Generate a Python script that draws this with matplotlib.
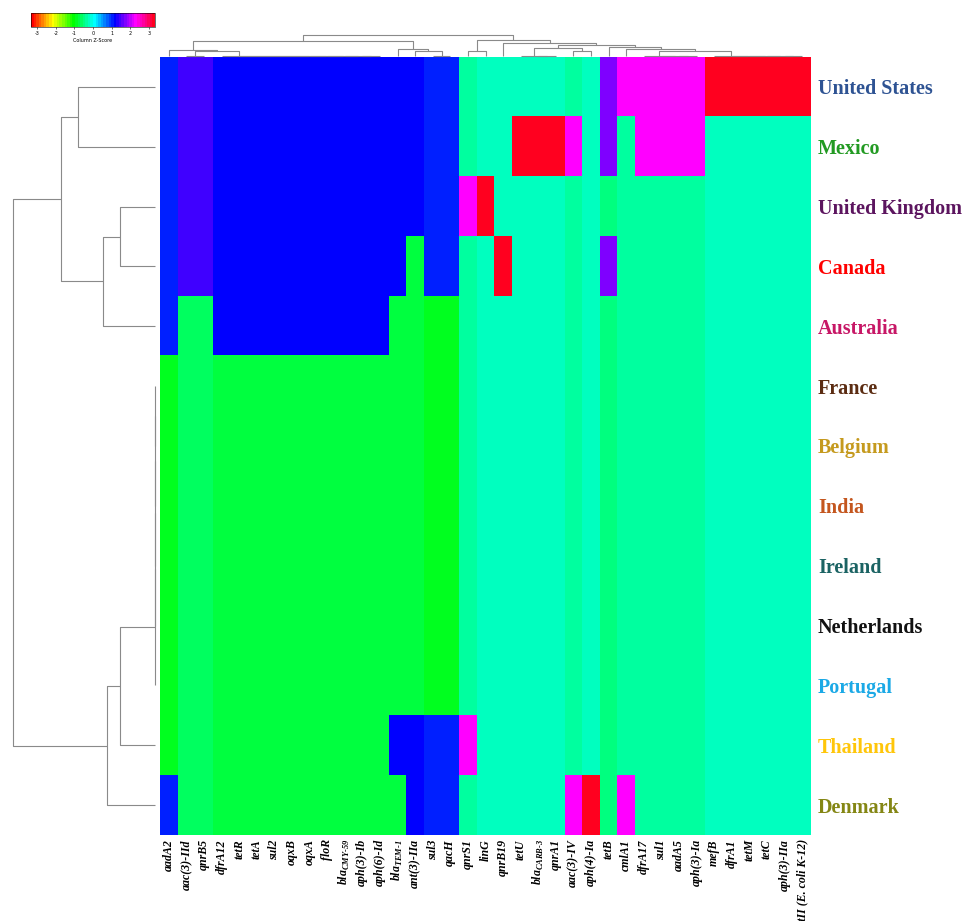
import numpy as np
import matplotlib
matplotlib.use("Agg")
import matplotlib.pyplot as plt
from matplotlib.collections import LineCollection
from matplotlib.colors import ListedColormap, hsv_to_rgb

plt.rcParams["axes.unicode_minus"] = False

countries = ["United States", "Mexico", "United Kingdom", "Canada", "Australia",
             "France", "Belgium", "India", "Ireland", "Netherlands", "Portugal",
             "Thailand", "Denmark"]
codes = ["US", "MX", "UK", "CA", "AU", "FR", "BE", "IN", "IE", "NL", "PT", "TH", "DK"]
country_colors = ["#2E5393", "#229A22", "#5C155F", "#FF0000", "#C71766",
                  "#5B2C12", "#C59A1E", "#C4561E", "#1B6363", "#111111",
                  "#1BA9E6", "#FFC60A", "#848614"]

genes = ["aadA2", "aac(3)-IId", "qnrB5", "dfrA12", "tetR", "tetA", "sul2", "oqxB",
         "oqxA", "floR", "bla$_{\\mathregular{CMY\u201059}}$", "aph(3)-Ib", "aph(6)-Id",
         "bla$_{\\mathregular{TEM\u20101}}$", "ant(3)-IIa", "sul3", "qacH", "qnrS1", "linG",
         "qnrB19", "tetU", "bla$_{\\mathregular{CARB\u20103}}$", "qnrA1", "aac(3)-IV",
         "aph(4)-Ia", "tetB", "cmlA1", "dfrA17", "sul1", "aadA5", "aph(3)-Ia",
         "mefB", "dfrA1", "tetM", "tetC", "aph(3)-IIa", "catII (E. coli K-12)"]

# countries in which each gene was detected
carriers = ["US MX UK CA AU DK", "US MX UK CA", "US MX UK CA",
            "US MX UK CA AU", "US MX UK CA AU", "US MX UK CA AU", "US MX UK CA AU",
            "US MX UK CA AU", "US MX UK CA AU", "US MX UK CA AU", "US MX UK CA AU",
            "US MX UK CA AU", "US MX UK CA AU",
            "US MX UK CA TH", "US MX UK TH DK", "US MX UK CA TH DK", "US MX UK CA TH DK",
            "UK TH", "UK", "CA", "MX", "MX", "MX", "MX DK", "DK", "US MX CA", "US DK",
            "US MX", "US MX", "US MX", "US MX",
            "US", "US", "US", "US", "US", "US"]

presence = np.array([[1 if c in carriers[j].split() else 0 for j in range(len(genes))]
                     for c in codes], dtype=float)

# column z-score
z = (presence - presence.mean(axis=0)) / presence.std(axis=0, ddof=1)
zmax = np.abs(z).max()

# rainbow palette, 48 steps of hue
n_col = 48
hues = np.arange(n_col) / n_col
rainbow = ListedColormap(hsv_to_rgb(np.column_stack([hues, np.ones(n_col), np.ones(n_col)])))


def linkage_segments(data, right_first=False):
    # average linkage on manhattan distance, joining neighbours in display order
    n = len(data)
    d = np.abs(data[:, None, :] - data[None, :, :]).sum(-1)
    clusters = [[i] for i in range(n)]
    pos = [float(i) for i in range(n)]
    hgt = [0.0] * n
    links = []
    while len(clusters) > 1:
        best = None
        for j in range(len(clusters) - 1):
            dist = d[np.ix_(clusters[j], clusters[j + 1])].mean()
            if best is None or dist < best[0] - 1e-9 or (right_first and dist <= best[0] + 1e-9):
                best = (dist, j)
        dist, j = best
        links.append((pos[j], hgt[j], pos[j + 1], hgt[j + 1], dist))
        clusters[j:j + 2] = [clusters[j] + clusters[j + 1]]
        pos[j:j + 2] = [(pos[j] + pos[j + 1]) / 2]
        hgt[j:j + 2] = [dist]
    return links, hgt[0]


W, H = 965, 921
fig = plt.figure(figsize=(W / 100, H / 100), dpi=100)


def px_axes(x0, y0, x1, y1):
    return fig.add_axes([x0 / W, 1 - y1 / H, (x1 - x0) / W, (y1 - y0) / H])


ax = px_axes(160, 57, 811, 835)
im = ax.imshow(z, cmap=rainbow, vmin=-zmax, vmax=zmax, aspect="auto",
               interpolation="nearest")
for s in ax.spines.values():
    s.set_visible(False)
ax.set_yticks(range(len(countries)))
ax.set_yticklabels(countries, family="Liberation Serif", fontweight="bold", fontsize=14.5)
ax.yaxis.tick_right()
for lab, col in zip(ax.get_yticklabels(), country_colors):
    lab.set_color(col)
ax.set_xticks(range(len(genes)))
ax.set_xticklabels(genes, rotation=90, family="Liberation Serif", fontweight="bold",
                   fontstyle="italic", fontsize=8.6)
ax.tick_params(length=0)
ax.tick_params(axis="y", pad=5)
ax.tick_params(axis="x", pad=3)

line_kw = dict(colors="#8a8a8a", linewidths=0.8, clip_on=False)

# row dendrogram
links, root = linkage_segments(presence)
segs = [[(h1, p1), (h, p1), (h, p2), (h2, p2)] for p1, h1, p2, h2, h in links]
rax = px_axes(13, 57, 155, 835)
rax.add_collection(LineCollection(segs, **line_kw))
rax.set_xlim(root, 0)
rax.set_ylim(len(countries) - 0.5, -0.5)
rax.axis("off")

# column dendrogram
links, root = linkage_segments(presence.T, right_first=True)
segs = [[(p1, h1), (p1, h), (p2, h), (p2, h2)] for p1, h1, p2, h2, h in links]
dax = px_axes(160, 35, 811, 56)
dax.add_collection(LineCollection(segs, **line_kw))
dax.set_xlim(-0.5, len(genes) - 0.5)
dax.set_ylim(0, root)
dax.axis("off")

# color key
kax = px_axes(31, 13, 155, 27)
cb = fig.colorbar(im, cax=kax, orientation="horizontal", ticks=range(-3, 4))
cb.outline.set_linewidth(0.4)
cb.ax.tick_params(labelsize=3.5, length=1.5, width=0.4, pad=1.5)
cb.set_label("Column Z-Score", fontsize=3.5, labelpad=1.5)

fig.savefig("out.png", dpi=100)
